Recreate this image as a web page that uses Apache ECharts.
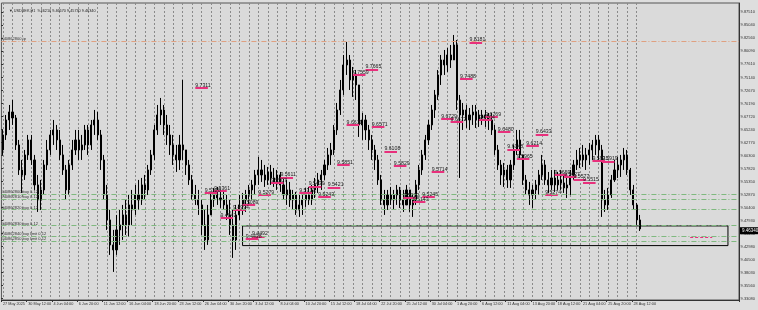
<!DOCTYPE html>
<html><head><meta charset="utf-8">
<script src="https://cdn.jsdelivr.net/npm/echarts@6/dist/echarts.min.js"></script>
<style>html,body{margin:0;padding:0;background:#dedede;}#c{width:758px;height:310px;}</style>
</head><body><div id="c"></div>
<script>
// ---- data ----
const symbolHeader = '\u25BC USDSEK,H1  9.46210 9.46670 9.45730 9.46340';
const timeLabels = ['27 May 2025','30 May 12:00','4 Jun 04:00','6 Jun 20:00','11 Jun 12:00','16 Jun 04:00','18 Jun 20:00','23 Jun 12:00','26 Jun 04:00','30 Jun 20:00','3 Jul 12:00','8 Jul 04:00','10 Jul 20:00','15 Jul 12:00','18 Jul 04:00','22 Jul 20:00','25 Jul 12:00','30 Jul 04:00','1 Aug 20:00','6 Aug 12:00','11 Aug 04:00','13 Aug 20:00','18 Aug 12:00','21 Aug 04:00','25 Aug 20:00','28 Aug 12:00'];
// right-axis labels, bottom to top
const priceTicks = ['9.33080','9.35560','9.38030','9.40500','9.42980','9.45450','9.47930','9.50400','9.52870','9.55350','9.57820','9.60300','9.62770','9.65240','9.67720','9.70190','9.72670','9.75140','9.77610','9.80090','9.82560','9.85040','9.87510'];
const yMin = 9.32832, yMax = 9.89277;
const lastPrice = 9.4634;
// 8-hour candles [open, close, low, high]
const candles = [
[9.6135,9.6420,9.6040,9.6515],[9.6420,9.6705,9.6325,9.6800],[9.6705,9.6857,9.6515,9.6990],[9.6857,9.6743,9.6610,9.7085],
[9.6743,9.6230,9.6135,9.6800],[9.6230,9.5755,9.5660,9.6325],[9.5755,9.5660,9.5318,9.5945],[9.5660,9.6040,9.5565,9.6135],
[9.6040,9.6325,9.5945,9.6420],[9.6325,9.5945,9.5850,9.6420],[9.5945,9.5470,9.5375,9.6040],[9.5470,9.5185,9.4957,9.5660],
[9.5185,9.5375,9.4995,9.5565],[9.5375,9.5850,9.5280,9.5945],[9.5850,9.6135,9.5755,9.6325],[9.6135,9.6420,9.6040,9.6515],
[9.6420,9.6515,9.6230,9.6705],[9.6515,9.6325,9.6135,9.6610],[9.6325,9.6040,9.5945,9.6515],[9.6040,9.5755,9.5660,9.6230],
[9.5755,9.5375,9.5185,9.5850],[9.5375,9.5850,9.5280,9.5945],[9.5850,9.6135,9.5755,9.6325],[9.6135,9.6325,9.6040,9.6515],
[9.6325,9.6135,9.5945,9.6515],[9.6135,9.6230,9.5945,9.6420],[9.6230,9.6515,9.6135,9.6610],[9.6515,9.6230,9.6040,9.6610],
[9.6230,9.6610,9.6135,9.6705],[9.6610,9.6705,9.6420,9.6895],[9.6705,9.6420,9.6325,9.6857],[9.6420,9.5945,9.5755,9.6515],
[9.5945,9.5280,9.5185,9.6040],[9.5280,9.4805,9.4615,9.5470],[9.4805,9.4330,9.4140,9.4995],[9.4330,9.4235,9.3817,9.4615],
[9.4235,9.4615,9.4140,9.4900],[9.4615,9.4710,9.4330,9.4995],[9.4710,9.4900,9.4425,9.5090],[9.4900,9.4710,9.4520,9.5185],
[9.4710,9.5090,9.4482,9.5280],[9.5090,9.4995,9.4710,9.5375],[9.4995,9.5280,9.4900,9.5470],[9.5280,9.5185,9.4995,9.5565],
[9.5185,9.5470,9.5090,9.5603],[9.5470,9.5375,9.5185,9.5660],[9.5375,9.5755,9.5280,9.5850],[9.5755,9.6040,9.5660,9.6135],
[9.6040,9.6515,9.5945,9.6610],[9.6515,9.6800,9.6420,9.6990],[9.6800,9.6895,9.6610,9.7123],[9.6895,9.6610,9.6420,9.6990],
[9.6610,9.6420,9.6230,9.6800],[9.6420,9.6230,9.6040,9.6610],[9.6230,9.6040,9.5850,9.6420],[9.6040,9.5945,9.5717,9.6230],
[9.5945,9.6230,9.5755,9.6420],[9.6230,9.6135,9.5945,9.7465],[9.6135,9.5850,9.5660,9.6135],[9.5850,9.5565,9.5470,9.5945],
[9.5565,9.5280,9.5185,9.5660],[9.5280,9.5185,9.5090,9.5470],[9.5185,9.5090,9.4900,9.5375],[9.5090,9.4710,9.4520,9.5185],
[9.4710,9.4425,9.4235,9.4995],[9.4425,9.4900,9.4330,9.5090],[9.4900,9.5185,9.4900,9.5318],[9.5185,9.5280,9.5052,9.5413],
[9.5280,9.5223,9.5090,9.5432],[9.5223,9.5185,9.5033,9.5375],[9.5185,9.5090,9.4995,9.5337],[9.5090,9.4900,9.4805,9.5280],
[9.4900,9.4710,9.4520,9.5185],[9.4710,9.4425,9.4083,9.4995],[9.4425,9.4900,9.4235,9.5090],[9.4900,9.5090,9.4805,9.5280],
[9.5090,9.5185,9.4900,9.5318],[9.5185,9.5280,9.4957,9.5375],[9.5280,9.5375,9.5090,9.5470],[9.5375,9.5470,9.5185,9.5565],
[9.5470,9.5660,9.5280,9.5755],[9.5660,9.5755,9.5470,9.6002],[9.5755,9.5660,9.5527,9.5945],[9.5660,9.5565,9.5432,9.5850],
[9.5565,9.5717,9.5470,9.5812],[9.5717,9.5603,9.5470,9.5850],[9.5603,9.5527,9.5432,9.5793],[9.5527,9.5660,9.5375,9.5755],
[9.5660,9.5470,9.5337,9.5717],[9.5470,9.5280,9.5185,9.5603],[9.5280,9.5375,9.5090,9.5565],[9.5375,9.5185,9.5052,9.5527],
[9.5185,9.5280,9.4995,9.5375],[9.5280,9.4995,9.4900,9.5337],[9.4995,9.5090,9.4862,9.5280],[9.5090,9.5185,9.4900,9.5318],
[9.5185,9.5280,9.5052,9.5413],[9.5280,9.5185,9.5090,9.5432],[9.5185,9.5375,9.5090,9.5470],[9.5375,9.5470,9.5223,9.5603],
[9.5470,9.5565,9.5318,9.5698],[9.5565,9.5660,9.5375,9.5755],[9.5660,9.5850,9.5565,9.5945],[9.5850,9.6040,9.5755,9.6173],
[9.6040,9.6135,9.5850,9.6268],[9.6135,9.6515,9.6040,9.6610],[9.6515,9.6895,9.6420,9.7028],[9.6895,9.7275,9.6800,9.7465],
[9.7275,9.7750,9.7180,9.7940],[9.7750,9.7845,9.7560,9.8187],[9.7845,9.7465,9.7275,9.7940],[9.7465,9.7560,9.7142,9.7712],
[9.7560,9.7370,9.7085,9.7655],[9.7370,9.6610,9.6382,9.7218],[9.6610,9.6705,9.6325,9.6838],[9.6705,9.6515,9.6325,9.6800],
[9.6515,9.6325,9.6135,9.6610],[9.6325,9.6135,9.5945,9.6420],[9.6135,9.5945,9.5755,9.6230],[9.5945,9.5565,9.5470,9.6040],
[9.5565,9.5185,9.5090,9.5660],[9.5185,9.5090,9.4900,9.5375],[9.5090,9.5280,9.4995,9.5375],[9.5280,9.5185,9.5090,9.5432],
[9.5185,9.5280,9.4995,9.5375],[9.5280,9.5375,9.5090,9.5470],[9.5375,9.5185,9.5033,9.5432],[9.5185,9.5090,9.4957,9.5375],
[9.5090,9.5375,9.5090,9.5470],[9.5375,9.5090,9.4957,9.5337],[9.5090,9.5185,9.4862,9.5280],[9.5185,9.5470,9.5090,9.5565],
[9.5470,9.5755,9.5375,9.5850],[9.5755,9.6040,9.5660,9.6135],[9.6040,9.6325,9.5945,9.6420],[9.6325,9.6610,9.6230,9.6705],
[9.6610,9.6895,9.6515,9.6990],[9.6895,9.7180,9.6743,9.7275],[9.7180,9.7560,9.7085,9.7655],[9.7560,9.7845,9.7370,9.7940],
[9.7845,9.7750,9.7560,9.8035],[9.7750,9.7940,9.7617,9.8073],[9.7940,9.7845,9.7693,9.8130],[9.7845,9.8130,9.7845,9.8320],
[9.8130,9.7085,9.6895,9.8225],[9.7085,9.6800,9.5603,9.7180],[9.6800,9.6895,9.6515,9.7028],[9.6895,9.6705,9.6553,9.6990],
[9.6705,9.6800,9.6515,9.6933],[9.6800,9.6857,9.6610,9.6990],[9.6857,9.6705,9.6553,9.6990],[9.6705,9.6800,9.6572,9.6895],
[9.6800,9.6743,9.6610,9.6895],[9.6743,9.6800,9.6572,9.6895],[9.6800,9.6705,9.6515,9.6838],[9.6705,9.6515,9.6420,9.6838],
[9.6515,9.6135,9.6040,9.6610],[9.6135,9.5850,9.5755,9.6230],[9.5850,9.5660,9.5470,9.5945],[9.5660,9.5755,9.5432,9.5888],
[9.5755,9.5565,9.5413,9.5850],[9.5565,9.5850,9.5413,9.5945],[9.5850,9.6135,9.5755,9.6230],[9.6135,9.6325,9.6040,9.6515],
[9.6325,9.6040,9.5945,9.6515],[9.6040,9.5565,9.5470,9.6040],[9.5565,9.5375,9.5280,9.5660],[9.5375,9.5280,9.5090,9.5527],
[9.5280,9.5375,9.5033,9.5470],[9.5375,9.5470,9.5185,9.5565],[9.5470,9.5660,9.5280,9.5755],[9.5660,9.5850,9.5565,9.6040],
[9.5850,9.5565,9.5470,9.5945],[9.5565,9.5470,9.5318,9.5717],[9.5470,9.5603,9.5375,9.5755],[9.5603,9.5470,9.5337,9.5755],
[9.5470,9.5565,9.5375,9.5717],[9.5565,9.5508,9.5375,9.5755],[9.5508,9.5413,9.5318,9.5660],[9.5413,9.5470,9.5223,9.5603],
[9.5470,9.5660,9.5280,9.5755],[9.5660,9.5850,9.5565,9.5945],[9.5850,9.5945,9.5755,9.6135],[9.5945,9.6040,9.5793,9.6173],
[9.6040,9.5945,9.5812,9.6230],[9.5945,9.6040,9.5755,9.6173],[9.6040,9.6135,9.5850,9.6268],[9.6135,9.6230,9.5945,9.6325],
[9.6230,9.6325,9.6040,9.6420],[9.6325,9.6135,9.5945,9.6420],[9.6135,9.5185,9.4862,9.6230],[9.5185,9.5090,9.4957,9.5375],
[9.5090,9.5280,9.4995,9.5413],[9.5280,9.5565,9.5223,9.5660],[9.5565,9.5755,9.5527,9.5945],[9.5755,9.5850,9.5603,9.6002],
[9.5850,9.5945,9.5622,9.6040],[9.5945,9.6040,9.5755,9.6173],[9.6040,9.5755,9.5660,9.6135],[9.5755,9.5375,9.5280,9.5793],
[9.5375,9.5090,9.4995,9.5470],[9.5090,9.4805,9.4710,9.5128],[9.4805,9.4634,9.4596,9.4900]
];
// short pink level marks: [8h slot index, price]
const levelMarks = [
[61,9.7311],[148,9.8181],[145,9.7488],[115,9.7665],[111,9.7559],[109,9.6611],[117,9.6571],[121,9.6108],[124,9.5829],[136,9.5714],
[106,9.5851],[88,9.5611],[85,9.5507],[103,9.5421],[97,9.5439],[94,9.5317],[100,9.5243],[67,9.5361],[64,9.5320],[81,9.5279],
[76,9.5089],[73,9.4994],[69,9.4842],[77,9.4438],[79,9.4492],[139,9.6729],[142,9.6672],[153,9.6769],[151,9.6704],[157,9.6480],
[169,9.6433],[166,9.6214],[160,9.6148],[163,9.5965],[133,9.5245],[130,9.5143],[127,9.5223],[172,9.5274],[175,9.5659],[178,9.5627],
[181,9.5577],[184,9.5515],[187,9.5931],[190,9.5919]
];
// trade lines
const orderPrices = [9.5312, 9.5153, 9.5008, 9.4666, 9.4539, 9.4444];
const orderTexts = ['#40862800 buy 0.12','#40862810 buy 0.12','#40862820 buy 0.12','#40862830 buy 0.12','#40862840 buy limit 0.12','#40862850 buy limit 0.12'];
const tpPrice = 9.8165, tpText = '#40862800 tp';
const boxRange = [[76, 9.4691], [230, 9.4317]];
const dashedMark = [218, 225, 9.4476];
const slotCount = 234; // 8h slots across the window

// ---- build ----
const slots = [];
for (let i = 0; i < slotCount; i++) slots.push(i % 8 === 0 && i / 8 < timeLabels.length ? timeLabels[i / 8] : '');
const sepSlots = [];
for (let i = 0; i < slotCount * 2; i++) sepSlots.push(String(i));
const dataSlots = candles.length * 2;
const showLab = (i) => i % 8 === 0 && i / 8 < timeLabels.length;
const FONT = 'Liberation Sans';

const pink = '#e8307c';
const markData = levelMarks.map(m => [
  {coord: [m[0], m[1]], label: {formatter: m[1].toFixed(4)}},
  {coord: [m[0] + 4, m[1]]}
]);
const orderData = orderPrices.map((p, i) => ({yAxis: p, label: {formatter: orderTexts[i]}, lineStyle: {color: '#7fb97f', type: [5, 2, 1, 2]}}));
orderData.push({yAxis: tpPrice, label: {formatter: tpText}, lineStyle: {color: '#e0a080', type: [5, 2, 1, 2]}});
orderData.push([{coord: [dashedMark[0], dashedMark[2]]}, {coord: [dashedMark[1], dashedMark[2]]}]);
orderData.push({yAxis: lastPrice, label: {formatter: lastPrice.toFixed(5), position: 'end', backgroundColor: '#000', color: '#fff', padding: [1, 2], distance: 1, fontSize: 4.5, fontFamily: FONT}, lineStyle: {color: 'rgba(0,0,0,0)', width: 0}});

const chart = echarts.init(document.getElementById('c'), null, {renderer: 'canvas'});
chart.setOption({
  animation: false,
  backgroundColor: '#dedede',
  title: {text: symbolHeader, left: 4, top: 4, textStyle: {fontSize: 3.8, fontWeight: 'normal', color: '#222', fontFamily: FONT}},
  grid: [
    {left: 1, right: 19, top: 3, bottom: 10, show: true, backgroundColor: '#dadada', borderColor: '#555', borderWidth: 1},
    {left: 1, right: 19, top: 12.3, bottom: 11.3, show: false}
  ],
  xAxis: [
    {type: 'category', gridIndex: 0, data: slots, boundaryGap: true,
     axisLine: {lineStyle: {color: '#333'}},
     axisTick: {show: true, length: 2, interval: showLab, lineStyle: {color: '#333'}},
     axisLabel: {interval: showLab, showMinLabel: true, hideOverlap: false, fontSize: 3.8, color: '#333', align: 'left', margin: 2, fontFamily: FONT},
     splitLine: {show: false}},
    {type: 'category', gridIndex: 0, data: sepSlots, boundaryGap: true, position: 'bottom',
     axisLine: {show: false}, axisTick: {show: false}, axisLabel: {show: false},
     splitLine: {show: true, interval: (i) => i % 6 === 1 && i <= dataSlots, lineStyle: {color: '#8a8a8a', type: [2, 2], width: 1}}},
    {type: 'value', gridIndex: 1, show: false, min: 0, max: 1}
  ],
  yAxis: [
    {type: 'value', gridIndex: 0, position: 'right', min: yMin, max: yMax,
     axisLine: {show: true, lineStyle: {color: '#333'}}, axisTick: {show: false}, axisLabel: {show: false}, splitLine: {show: false}},
    {type: 'value', gridIndex: 1, position: 'right', min: 0, max: priceTicks.length - 1, interval: 1,
     axisLine: {show: false},
     axisTick: {show: true, length: 2, lineStyle: {color: '#333'}},
     axisLabel: {fontSize: 4, color: '#333', margin: 2, fontFamily: FONT,
       formatter: (v) => priceTicks[Math.round(v)] || ''},
     splitLine: {show: false}}
  ],
  series: [
    {type: 'candlestick', xAxisIndex: 0, yAxisIndex: 0, data: candles, barWidth: 1.6,
     itemStyle: {color: '#000', color0: '#000', borderColor: '#000', borderColor0: '#000', borderWidth: 1},
     markLine: {silent: true, symbol: 'none', animation: false,
       lineStyle: {color: pink, width: 2, type: 'solid'},
       label: {show: true, position: 'insideStartTop', distance: [0, 0], fontSize: 5.2, color: '#222', fontFamily: FONT},
       data: markData},
     markArea: {silent: true, itemStyle: {color: 'rgba(0,0,0,0)', borderColor: '#000', borderWidth: 1},
       data: [[{coord: boxRange[0]}, {coord: boxRange[1]}]]}
    },
    {type: 'line', xAxisIndex: 0, yAxisIndex: 0, data: [],
     markLine: {silent: true, symbol: 'none', animation: false,
       lineStyle: {color: pink, width: 1, type: [3, 2]},
       label: {show: true, position: 'insideStartTop', distance: [0, 0], fontSize: 4, color: '#333', fontFamily: FONT},
       data: orderData}}
  ]
});
</script></body></html>
